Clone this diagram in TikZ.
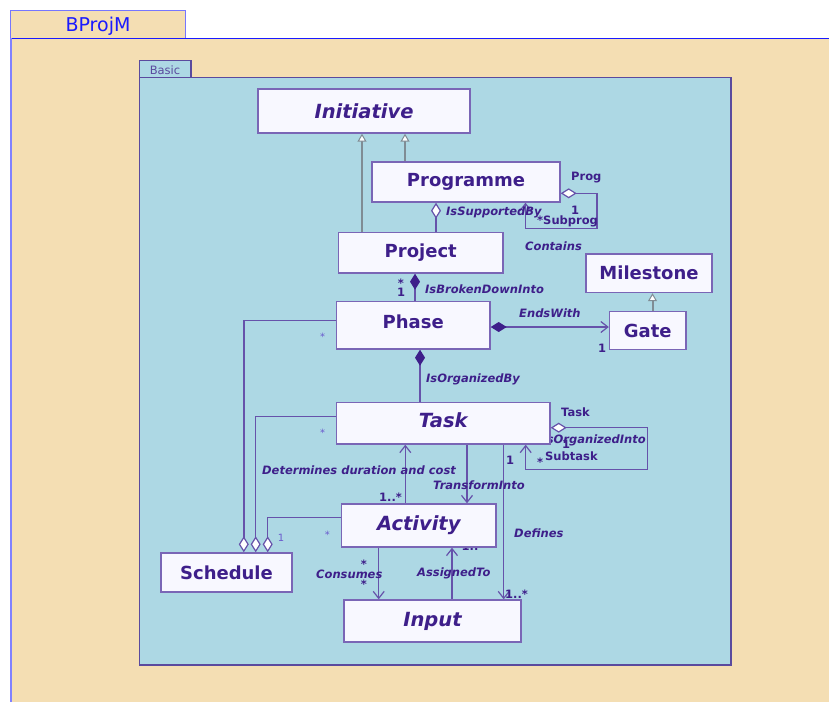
\documentclass[tikz,border=0pt]{standalone}
\usepackage{fontspec}
\setmainfont{DejaVu Sans}
\usetikzlibrary{arrows.meta}
\definecolor{wheatbg}{HTML}{F4DEB3}
\definecolor{pkgfill}{HTML}{ADD8E4}
\definecolor{pkgline}{HTML}{5A4A9E}
\definecolor{clsfill}{HTML}{F8F8FF}
\definecolor{clsline}{HTML}{7A66B6}
\definecolor{txt}{HTML}{3E1F8A}
\definecolor{assocc}{HTML}{6652AA}
\definecolor{genline}{HTML}{7F8C94}
\definecolor{frameblue}{HTML}{1A1AFF}
\definecolor{lightstar}{HTML}{6A5ACD}
\pgfdeclarelayer{back}
\pgfdeclarelayer{mid}
\pgfsetlayers{back,mid,main}
\tikzset{
  cls/.style={draw=clsline, fill=clsfill, line width=1.4pt, inner sep=0pt, text=txt,
    font=\bfseries\fontsize{18}{20}\selectfont},
  clsi/.style={cls, font=\bfseries\itshape\fontsize{19.5}{22}\selectfont},
  gen/.style={draw=genline, line width=2pt,
    -{Triangle[open, fill=white, length=8pt, width=9pt, line width=1pt]}},
  assoc/.style={draw=assocc, line width=1.5pt},
  barb/.style={-{Straight Barb[length=7pt, width=11pt, line width=1.2pt]}},
  hdia/.style={{Diamond[open, fill=white, length=16pt, width=10pt, line width=1.2pt]}-},
  fdia/.style={{Diamond[fill=txt, color=txt, length=16pt, width=10pt, line width=1pt]}-},
  hdiabarb/.style={{Diamond[open, fill=white, length=16pt, width=10pt, line width=1.2pt]}-{Straight Barb[length=7pt, width=11pt, line width=1.2pt]}},
  fdiabarb/.style={{Diamond[fill=txt, color=txt, length=16pt, width=10pt, line width=1pt]}-{Straight Barb[length=7pt, width=11pt, line width=1.2pt]}},
  lbl/.style={text=txt, inner sep=0pt, font=\bfseries\itshape\fontsize{11.5}{13}\selectfont},
  mult/.style={text=txt, inner sep=0pt, font=\bfseries\fontsize{11.5}{13}\selectfont},
  smallstar/.style={text=lightstar, inner sep=0pt, font=\fontsize{10}{12}\selectfont}
}
\begin{document}
\begin{tikzpicture}[x=1pt, y=-1pt]
\useasboundingbox (0,0) rectangle (829,702);
% classes
\node[clsi, minimum width=212pt, minimum height=44pt] (init) at (364,111) {Initiative};
\node[cls, minimum width=188pt, minimum height=40pt] (prog) at (466,182) {Programme};
\node[cls, minimum width=164.5pt, minimum height=40.5pt] (proj) at (420.75,252.75) {Project};
\node[cls, minimum width=126pt, minimum height=38.5pt] (mile) at (649,273.25) {Milestone};
\node[cls, minimum width=76.5pt, minimum height=38pt] (gate) at (647.75,330.5) {Gate};
\node[cls, minimum width=153.5pt, minimum height=47.5pt, text depth=7pt] (phase) at (413.25,325.25) {Phase};
\node[clsi, minimum width=213.5pt, minimum height=41.5pt, text depth=6pt] (task) at (443.25,423.25) {Task};
\node[clsi, minimum width=154.5pt, minimum height=43pt] (act) at (418.75,525.5) {Activity};
\node[cls, minimum width=131pt, minimum height=39pt] (sched) at (226.5,572.5) {Schedule};
\node[clsi, minimum width=177pt, minimum height=42pt] (inp) at (432.5,621) {Input};

% helper coordinates
\coordinate (gA) at (362,0);
\coordinate (gB) at (405,0);
\coordinate (gC) at (652.5,0);
\coordinate (sA) at (436,0);
\coordinate (pl1) at (597,193.3);
\coordinate (pl2) at (597,228.3);
\coordinate (pl3) at (525.5,228.3);
\coordinate (cA) at (415,0);
\coordinate (gy) at (0,327);
\coordinate (cB) at (420,0);
\coordinate (tl1) at (647.7,427.7);
\coordinate (tl2) at (647.7,469.3);
\coordinate (tl3) at (525.7,469.3);
\coordinate (aT) at (405.3,0);
\coordinate (tA) at (467,0);
\coordinate (tI) at (503.7,0);
\coordinate (aI) at (378.7,0);
\coordinate (iA) at (452,0);
\coordinate (s1) at (243.8,320.7);
\coordinate (s2) at (255.7,416.7);
\coordinate (s3) at (267.7,517.7);

\begin{pgfonlayer}{back}
  \fill[white] (0,0) rectangle (829,702);
  \fill[wheatbg] (11,38.3) rectangle (829,702);
  \draw[fill=wheatbg, draw=frameblue!60, line width=1.2pt] (10.5,10.5) rectangle (185.3,38.3);
  \node[text=frameblue, inner sep=0pt, font=\fontsize{19}{21}\selectfont] (title) at (98,26) {BProjM};
  \draw[frameblue, line width=1.2pt] (11,38.3) -- (829,38.3);
  \draw[frameblue!55, line width=2pt] (11,38.3) -- (11,702);
  \draw[fill=pkgfill, draw=pkgline, line width=1.3pt] (139.3,60.7) rectangle (191,77.3);
  \node[text=pkgline, inner sep=0pt, font=\fontsize{11.5}{13}\selectfont] (basic) at (165,70) {Basic};
  \draw[fill=pkgfill, draw=pkgline, line width=1.5pt] (139.3,77.3) rectangle (731,665);
\end{pgfonlayer}

\begin{pgfonlayer}{mid}
  % generalizations
  \draw[gen] (proj.north -| gA) -- (init.south -| gA);
  \draw[gen] (prog.north -| gB) -- (init.south -| gB);
  \draw[gen] (gate.north -| gC) -- (mile.south -| gC);
  % aggregation Programme - Project
  \draw[assoc, hdia] (prog.south -| sA) -- (proj.north -| sA);
  % Programme self
  \draw[assoc, hdiabarb] (prog.east |- pl1) -- (pl1) -- (pl2) -- (pl3) -- (prog.south -| pl3);
  % Project - Phase
  \draw[assoc, fdia] (proj.south -| cA) -- (phase.north -| cA);
  % Phase - Gate
  \draw[assoc, fdiabarb] (phase.east |- gy) -- (gate.west |- gy);
  % Phase - Task
  \draw[assoc, fdia] (phase.south -| cB) -- (task.north -| cB);
  % Task self
  \draw[assoc, hdiabarb] (task.east |- tl1) -- (tl1) -- (tl2) -- (tl3) -- (task.south -| tl3);
  % Activity / Task / Input
  \draw[assoc, barb] (act.north -| aT) -- (task.south -| aT);
  \draw[assoc, barb] (task.south -| tA) -- (act.north -| tA);
  \draw[assoc, barb] (task.south -| tI) -- (inp.north -| tI);
  \draw[assoc, barb] (act.south -| aI) -- (inp.north -| aI);
  \draw[assoc, barb] (inp.north -| iA) -- (act.south -| iA);
  % Schedule aggregations
  \draw[assoc, hdia] (sched.north -| s1) -- (s1) -- (phase.west |- s1);
  \draw[assoc, hdia] (sched.north -| s2) -- (s2) -- (task.west |- s2);
  \draw[assoc, hdia] (sched.north -| s3) -- (s3) -- (act.west |- s3);

  % labels
  \node[lbl, anchor=west] (l1) at (446,212) {IsSupportedBy};
  \node[mult, anchor=west] (l2) at (571,178) {Prog};
  \node[mult] (l3) at (575,210) {1};
  \node[mult, anchor=west] (l4) at (537,221.5) {*Subprog};
  \node[lbl, anchor=west] (l5) at (525,246) {Contains};
  \node[mult] (l6) at (401,283) {*};
  \node[mult] (l7) at (401,292.5) {1};
  \node[lbl, anchor=west] (l8) at (425,289) {IsBrokenDownInto};
  \node[lbl, anchor=west] (l9) at (519,313) {EndsWith};
  \node[mult] (l10) at (602,348) {1};
  \node[lbl, anchor=west] (l11) at (426,379) {IsOrganizedBy};
  \node[mult, anchor=west] (l12) at (561,412) {Task};
  \node[lbl, anchor=east] (l13) at (646,440) {IsOrganizedInto};
  \node[mult] (l14) at (566,444) {1};
  \node[mult] (l15) at (540,462) {*};
  \node[mult, anchor=west] (l16) at (545,456) {Subtask};
  \node[mult] (l17) at (510,460) {1};
  \node[lbl, anchor=west] (l18) at (262,470) {Determines duration and cost};
  \node[lbl, anchor=west] (l19) at (433,485) {TransformInto};
  \node[mult, anchor=west] (l20) at (379,497) {1..*};
  \node[lbl, anchor=west] (l21) at (514,533) {Defines};
  \node[mult] (l22) at (364,564) {*};
  \node[mult] (l23) at (364,584) {*};
  \node[lbl, anchor=west] (l24) at (316,574) {Consumes};
  \node[lbl, anchor=west] (l25) at (417,573) {AssignedTo};
  \node[mult] (l26) at (470,546) {1..};
  \node[mult, anchor=west] (l27) at (505,594) {1..*};
  \node[smallstar] (l28) at (322.7,337) {*};
  \node[smallstar] (l29) at (322.7,433) {*};
  \node[smallstar] (l30) at (327.3,535) {*};
  \node[smallstar] (l31) at (281,538) {1};
\end{pgfonlayer}
\end{tikzpicture}
\end{document}
